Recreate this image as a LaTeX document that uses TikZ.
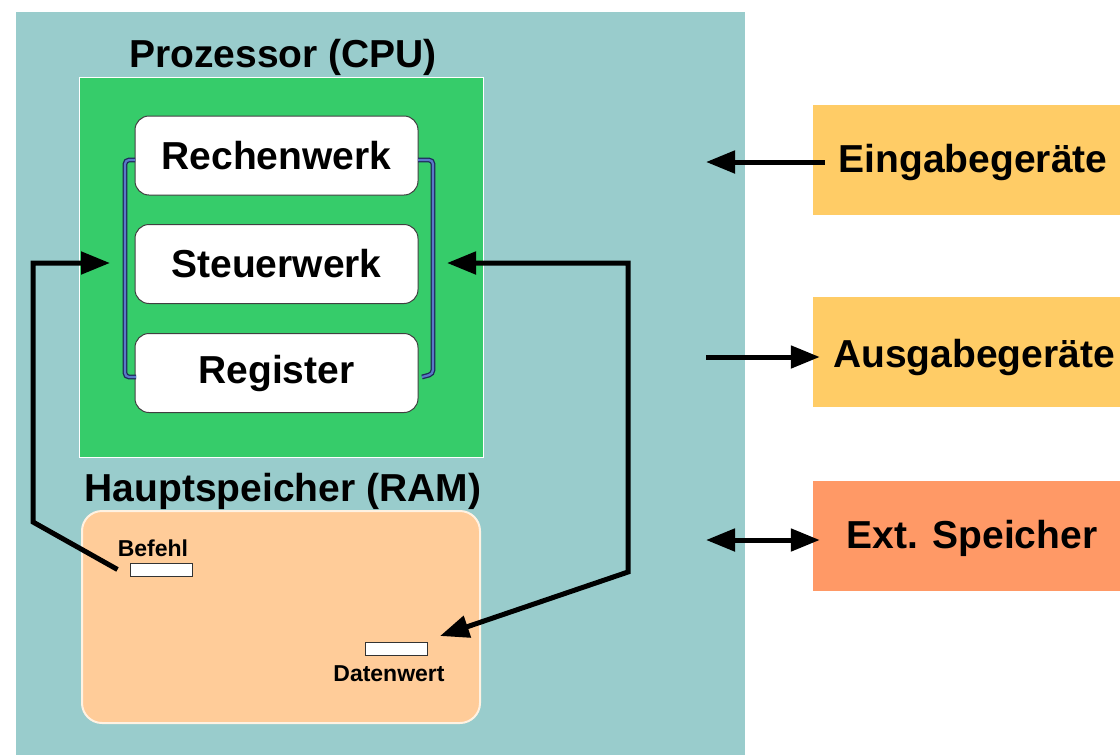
\documentclass[tikz,border=0pt]{standalone}
\usepackage{fontspec}
\setmainfont{Liberation Sans}
\usetikzlibrary{arrows.meta}
\definecolor{bgteal}{HTML}{99CCCC}
\definecolor{cpugreen}{HTML}{36CC6A}
\definecolor{ramorange}{HTML}{FFCC99}
\definecolor{ramedge}{HTML}{FFF2E2}
\definecolor{iobox}{HTML}{FFCC66}
\definecolor{extbox}{HTML}{FF9966}
\definecolor{busdark}{HTML}{1E2A5A}
\definecolor{buslight}{HTML}{5A78C8}
\tikzset{
  bigfont/.style={font=\fontsize{39}{47}\selectfont\bfseries},
  smallfont/.style={font=\fontsize{23}{28}\selectfont\bfseries},
  unitbox/.style={draw=black!75, line width=1pt, fill=white, rounded corners=14pt,
    minimum width=283pt, minimum height=79pt, inner sep=0pt, bigfont},
  cellbox/.style={draw=black!80, line width=1pt, fill=white, inner sep=0pt,
    minimum width=62pt, minimum height=13pt},
  devbox/.style={inner sep=0pt, minimum width=320pt, minimum height=110pt, bigfont},
  flow/.style={line width=5pt, ->},
  flowboth/.style={line width=5pt, <->},
  bus/.style={draw=busdark, line width=1.3pt, double=buslight, double distance=2.2pt,
    rounded corners=4pt},
}
\begin{document}
\begin{tikzpicture}[x=1pt,y=-1pt, >={Triangle[length=29pt,width=22pt]}]
\useasboundingbox (0,0) rectangle (1120,755);
\fill[white] (0,0) rectangle (1120,755);

% computer case
\fill[bgteal] (16,12) rectangle (745,755);

% processor
\node[draw=white, line width=1pt, fill=cpugreen, inner sep=0pt,
      minimum width=404pt, minimum height=380pt] (cpu) at (281,267) {};
\node[bigfont] (cputitle) at (283,57) {Prozessor (CPU)};

\node[unitbox] (rw) at (276.5,155.5) {Rechenwerk};
\node[unitbox] (sw) at (276.5,264) {Steuerwerk};
\node[unitbox] (reg) at (276.5,373) {Register};

% internal bus between the units
\coordinate (bl1) at (135,160);
\coordinate (bl2) at (125,160);
\coordinate (bl3) at (125,377);
\coordinate (bl4) at (136,377);
\coordinate (br1) at (418,160);
\coordinate (br2) at (433,160);
\coordinate (br3) at (433,374);
\coordinate (br4) at (422,377);
\draw[bus] (bl1) -- (bl2) -- (bl3) -- (bl4);
\draw[bus] (br1) -- (br2) -- (br3) -- (br4);

% main memory
\node[draw=ramedge, line width=2pt, fill=ramorange, rounded corners=20pt, inner sep=0pt,
      minimum width=398pt, minimum height=212pt] (ram) at (281,617) {};
\node[bigfont] (ramtitle) at (283,491) {Hauptspeicher (RAM)};

\node[cellbox] (befehl) at (161,569.5) {};
\node[smallfont] (befehltxt) at (153,548) {Befehl};
\node[cellbox] (daten) at (396.5,649) {};
\node[smallfont] (datentxt) at (389,674) {Datenwert};

% instruction fetch path
\coordinate (bA) at (33,522);
\coordinate (bB) at (33,263);
\coordinate (cpuL) at (110,263);
\draw[flow] ([xshift=-12pt]befehl.west) -- (bA) -- (bB) -- (cpuL);

% data path
\coordinate (cpuR) at (447,263);
\coordinate (dA) at (628,263);
\coordinate (dB) at (628,572);
\coordinate (datTip) at (440,636);
\draw[flowboth] (cpuR) -- (dA) -- (dB) -- (datTip);

% peripherals
\node[devbox, fill=iobox] (ein) at (973,160) {};
\node[bigfont] (eintxt) at (973,163) {Eingabegeräte};
\node[devbox, fill=iobox] (aus) at (973,352) {};
\node[bigfont] (austxt) at (974,357) {Ausgabegeräte};
\node[devbox, fill=extbox] (ext) at (973,536) {};
\node[bigfont] (exttxt) at (972,538) {Ext. Speicher};

\coordinate (einTip) at (706,162);
\coordinate (ausStart) at (706,357);
\coordinate (extTip) at (706,540);
\draw[flow] ([xshift=12pt]ein.west |- einTip) -- (einTip);
\draw[flow] (ausStart) -- ([xshift=7pt]aus.west |- ausStart);
\draw[flowboth] (extTip) -- ([xshift=7pt]ext.west |- extTip);
\end{tikzpicture}
\end{document}
